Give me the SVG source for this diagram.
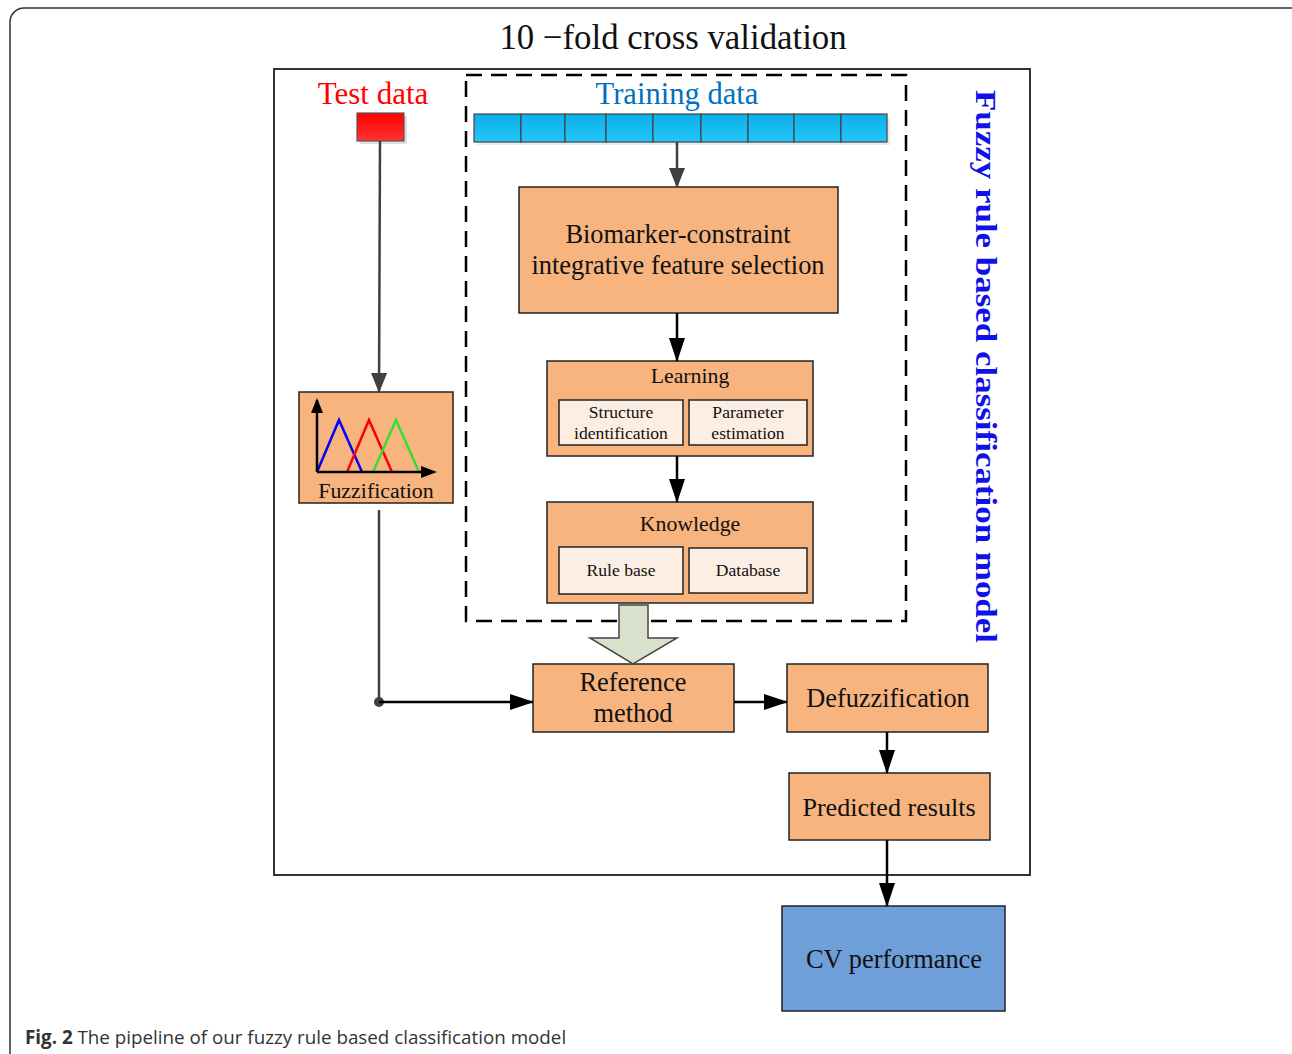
<svg xmlns="http://www.w3.org/2000/svg" width="1292" height="1054" viewBox="0 0 1292 1054">
<defs>
<style>
.t{font-family:"Liberation Serif","Times New Roman",serif;fill:#111;text-anchor:middle}
.box{fill:#f7b47f;stroke:#222;stroke-width:1.5}
.sub{fill:#fdeee3;stroke:#222;stroke-width:1.5}
.cell{fill:url(#gb);stroke:#444;stroke-width:1.2}
.c{stroke:#000;stroke-width:2.5;fill:none}
.g{stroke:#404040;stroke-width:2.5;fill:none}
</style>
<linearGradient id="gb" x1="0" y1="0" x2="0" y2="1"><stop offset="0" stop-color="#0aaeea"/><stop offset="1" stop-color="#26c6fa"/></linearGradient>
<linearGradient id="gr" x1="0" y1="0" x2="0" y2="1"><stop offset="0" stop-color="#ff0000"/><stop offset="1" stop-color="#ff3333"/></linearGradient>
<marker id="abig" markerWidth="24" markerHeight="16" refX="23" refY="8" orient="auto" markerUnits="userSpaceOnUse" viewBox="0 0 24 16"><path d="M0,0 L24,8 L0,16 z" fill="#000"/></marker>
<marker id="gbig" markerWidth="20" markerHeight="16" refX="19" refY="8" orient="auto" markerUnits="userSpaceOnUse" viewBox="0 0 20 16"><path d="M0,0 L20,8 L0,16 z" fill="#404040"/></marker>
</defs>
<rect width="1292" height="1054" fill="#fff"/>
<rect x="10" y="8" width="1300" height="1080" rx="14" fill="none" stroke="#333" stroke-width="1.5"/>
<text class="t" x="673" y="49" font-size="34.8">10 −fold cross validation</text>
<rect x="274" y="69" width="756" height="806" fill="none" stroke="#333" stroke-width="2"/>
<rect x="466" y="75" width="440" height="546" fill="none" stroke="#000" stroke-width="2.5" stroke-dasharray="16,9"/>
<text x="976" y="90" font-family="Liberation Serif,serif" font-weight="bold" font-size="29.5" fill="#1010e8" transform="rotate(90 976 90)" textLength="553" lengthAdjust="spacingAndGlyphs">Fuzzy rule based classification model</text>

<g id="test-data">
<text class="t" x="373" y="104" font-size="31" style="fill:#ff0000">Test data</text>
<rect x="360" y="116" width="47" height="28" fill="#ccc" opacity="0.6"/>
<rect x="357" y="113" width="47" height="28" fill="url(#gr)" stroke="#555" stroke-width="1.2"/>
</g>

<g id="training-data">
<text class="t" x="677" y="104" font-size="30.6" style="fill:#0070c0">Training data</text>
<rect x="477" y="117" width="413" height="28" fill="#ddd" opacity="0.6"/>
<rect class="cell" x="474" y="114" width="47" height="28"/>
<rect class="cell" x="521" y="114" width="44" height="28"/>
<rect class="cell" x="565" y="114" width="41" height="28"/>
<rect class="cell" x="606" y="114" width="47" height="28"/>
<rect class="cell" x="653" y="114" width="48" height="28"/>
<rect class="cell" x="701" y="114" width="47" height="28"/>
<rect class="cell" x="748" y="114" width="46" height="28"/>
<rect class="cell" x="794" y="114" width="47" height="28"/>
<rect class="cell" x="841" y="114" width="46" height="28"/>
</g>

<g id="feature-selection">
<rect class="box" x="519" y="187" width="319" height="126"/>
<text class="t" x="678" y="243" font-size="26.4">Biomarker-constraint</text>
<text class="t" x="678" y="274" font-size="26.4">integrative feature selection</text>
</g>

<g id="learning">
<rect class="box" x="547" y="361" width="266" height="95"/>
<text class="t" x="690" y="383" font-size="21.8">Learning</text>
<rect class="sub" x="559" y="400" width="124" height="45"/>
<text class="t" x="621" y="418" font-size="17.6">Structure</text>
<text class="t" x="621" y="439" font-size="17.6">identification</text>
<rect class="sub" x="689" y="400" width="118" height="45"/>
<text class="t" x="748" y="418" font-size="17.6">Parameter</text>
<text class="t" x="748" y="439" font-size="17.6">estimation</text>
</g>

<g id="knowledge">
<rect class="box" x="547" y="502" width="266" height="101"/>
<text class="t" x="690" y="531" font-size="21.8">Knowledge</text>
<rect class="sub" x="559" y="547" width="124" height="47"/>
<text class="t" x="621" y="576" font-size="17.6">Rule base</text>
<rect class="sub" x="689" y="548" width="118" height="45"/>
<text class="t" x="748" y="576" font-size="17.6">Database</text>
</g>

<g id="fuzzification">
<rect class="box" x="299" y="392" width="154" height="111"/>
<g fill="none" stroke-width="2.5">
<polyline points="317,472 339,420 362,472" stroke="#0000ff"/>
<polyline points="347,472 369,420 392,472" stroke="#ff0000"/>
<polyline points="373,472 396,420 419,472" stroke="#33dd33"/>
</g>
<line x1="317" y1="472" x2="317" y2="400" stroke="#000" stroke-width="2.5"/>
<path d="M317,398 L311,413 L323,413 z" fill="#000"/>
<line x1="317" y1="472" x2="425" y2="472" stroke="#000" stroke-width="2.5"/>
<path d="M437,472 L421,466 L421,478 z" fill="#000"/>
<text class="t" x="376" y="498" font-size="21.9">Fuzzification</text>
</g>

<g id="reference-method">
<rect class="box" x="533" y="664" width="201" height="68"/>
<text class="t" x="633" y="691" font-size="26.4">Reference</text>
<text class="t" x="633" y="722" font-size="26.4">method</text>
</g>

<g id="defuzzification">
<rect class="box" x="787" y="664" width="201" height="68"/>
<text class="t" x="888" y="707" font-size="26.3">Defuzzification</text>
</g>

<g id="predicted-results">
<rect class="box" x="789" y="773" width="201" height="67"/>
<text class="t" x="889" y="816" font-size="26.1">Predicted results</text>
</g>

<g id="cv-performance">
<rect x="782" y="906" width="223" height="105" fill="#6f9fd9" stroke="#222" stroke-width="1.5"/>
<text class="t" x="894" y="968" font-size="26.4">CV performance</text>
</g>

<g id="connectors">
<line class="g" x1="677" y1="142" x2="677" y2="187" marker-end="url(#gbig)"/>
<line class="g" x1="380" y1="141" x2="379" y2="392" marker-end="url(#gbig)"/>
<line class="c" x1="677" y1="313" x2="677" y2="361" marker-end="url(#abig)"/>
<line class="c" x1="677" y1="456" x2="677" y2="502" marker-end="url(#abig)"/>
<polyline class="g" points="379,510 379,702"/>
<circle cx="379" cy="702" r="5" fill="#404040"/>
<line class="c" x1="379" y1="702" x2="533" y2="702" marker-end="url(#abig)"/>
<line class="c" x1="734" y1="702" x2="787" y2="702" marker-end="url(#abig)"/>
<line class="c" x1="887" y1="732" x2="887" y2="773" marker-end="url(#abig)"/>
<line class="c" x1="887" y1="840" x2="887" y2="906" marker-end="url(#abig)"/>
<path d="M619,605 L648,605 L648,638 L677,638 L633,664 L590,638 L619,638 z" fill="#d9e0cb" stroke="#444" stroke-width="1.5"/>
</g>

<text x="25" y="1044" font-family="Open Sans,sans-serif" font-size="18.8" fill="#333"><tspan font-weight="bold">Fig. 2</tspan> The pipeline of our fuzzy rule based classification model</text>
</svg>
